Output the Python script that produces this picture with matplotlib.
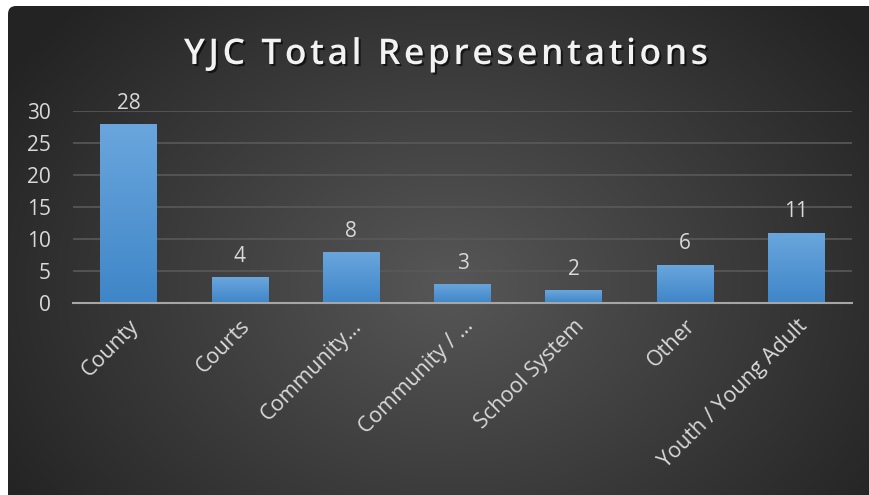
import numpy as np
import matplotlib
matplotlib.use("Agg")
import matplotlib.pyplot as plt
import matplotlib.patheffects as pe
from matplotlib.patches import FancyBboxPatch

# Data
categories = ["County", "Courts", "Community…", "Community / …",
              "School System", "Other", "Youth / Young Adult"]
values = [28, 4, 8, 3, 2, 6, 11]
yticks = [0, 5, 10, 15, 20, 25, 30]
title = "YJC Total Representations"

plt.rcParams["font.family"] = ["Open Sans", "DejaVu Sans"]

fig = plt.figure(figsize=(8.7, 4.95), dpi=100)
fig.patch.set_facecolor("white")

# dark radial gradient panel behind everything
bg = fig.add_axes([0, 0, 1, 1], zorder=0)
bg.set_xlim(0, 870)
bg.set_ylim(0, 495)
bg.axis("off")
gx, gy = np.meshgrid(np.linspace(0, 870, 435), np.linspace(0, 495, 248))
r = np.sqrt(((gx - 450) / 520) ** 2 + ((gy - 210) / 400) ** 2)
shade = np.clip(0.34 - 0.2 * r, 0.14, 0.34)
img = np.dstack([shade, shade, shade])
panel = FancyBboxPatch((8, -30), 900, 519, boxstyle="round,pad=0,rounding_size=8",
                       facecolor="none", edgecolor="none", transform=bg.transData)
bg.add_patch(panel)
im = bg.imshow(img, extent=(0, 870, 0, 495), origin="lower", aspect="auto")
im.set_clip_path(panel)

ax = fig.add_axes([73 / 870, 192 / 495, 779 / 870, 192 / 495], zorder=1)
ax.patch.set_alpha(0)
x = np.arange(len(categories))
bars = ax.bar(x, values, width=0.51, color="#5b9bd5", zorder=2)

# vertical gradient on each bar
grad = np.linspace(0, 1, 64).reshape(-1, 1)
cmap = matplotlib.colors.LinearSegmentedColormap.from_list("b", ["#3f86c8", "#6aa6dd"])
for b, v in zip(bars, values):
    bx, by = b.get_x(), b.get_y()
    w, h = b.get_width(), b.get_height()
    gi = ax.imshow(grad, extent=(bx, bx + w, by, by + h), origin="lower",
                   aspect="auto", cmap=cmap, zorder=3)
    gi.set_clip_path(b)
    ax.text(bx + w / 2, h + 1.6, str(v), ha="center",
            va="bottom", fontsize=15, color="#d9d9d9", zorder=4)

ax.set_xlim(-0.5, len(categories) - 0.5)
ax.set_ylim(0, 30)
ax.set_yticks(yticks)
ax.set_yticklabels([str(t) for t in yticks], fontsize=15, color="#d9d9d9")
ax.tick_params(axis="y", length=0, pad=16)
ax.set_xticks(x)
ax.set_xticklabels(categories, rotation=45, ha="right", rotation_mode="anchor",
                   fontsize=15.5, color="#d9d9d9")
ax.tick_params(axis="x", length=0, pad=9)
ax.grid(axis="y", color="#595959", linewidth=1.2, zorder=0)
ax.set_axisbelow(True)
for s in ["top", "right", "left"]:
    ax.spines[s].set_visible(False)
ax.spines["bottom"].set_color("#a6a6a6")
ax.spines["bottom"].set_linewidth(1.5)
ax.spines["bottom"].set_zorder(5)

fig.text(445 / 870, 1 - 55 / 495, "\u200a".join(title), ha="center", va="center",
         fontsize=25.5, fontweight="semibold", color="#f2f2f2",
         path_effects=[pe.withSimplePatchShadow(offset=(1.5, -1.5),
                                                shadow_rgbFace="black", alpha=0.6)])

fig.savefig("out.png", dpi=100)
